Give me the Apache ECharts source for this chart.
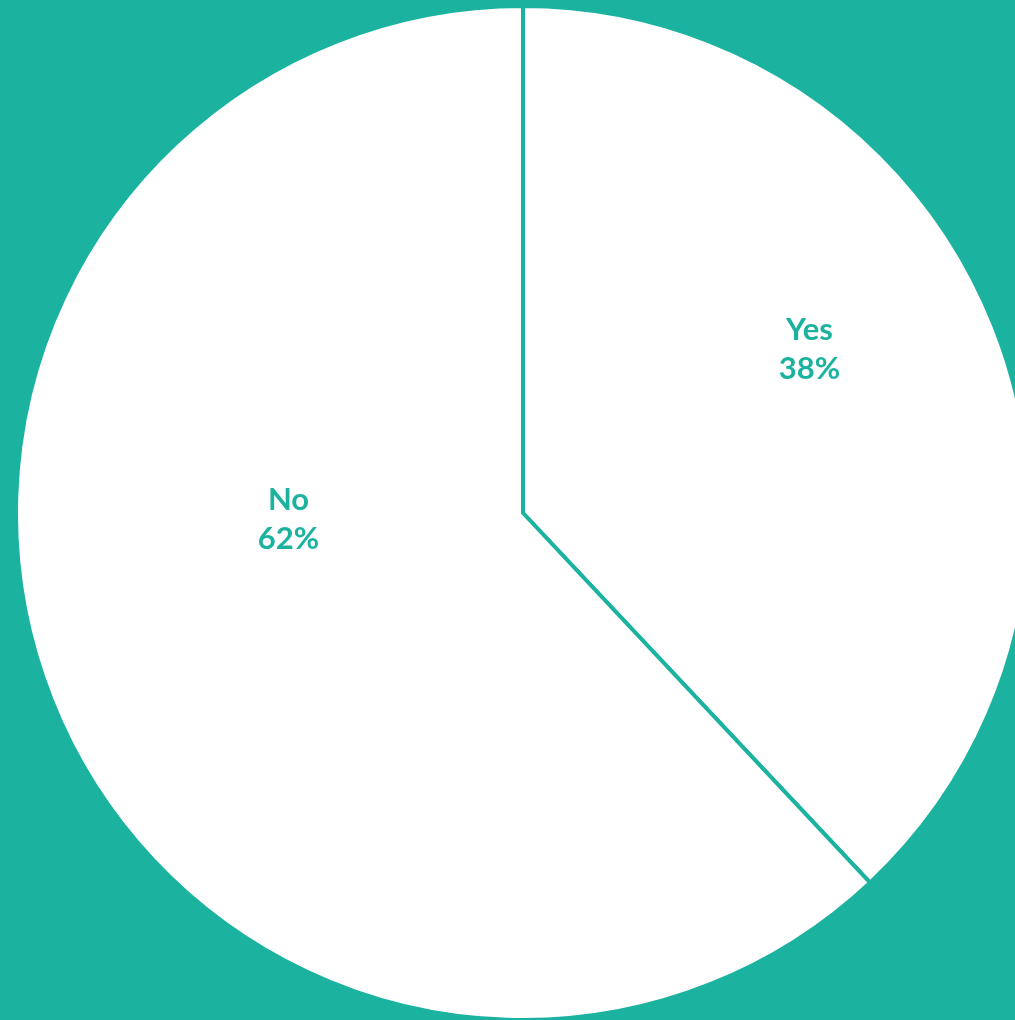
<!DOCTYPE html>
<html>
<head>
<meta charset="utf-8">
<script src="https://cdn.jsdelivr.net/npm/echarts@6/dist/echarts.min.js"></script>
<style>
  html, body { margin: 0; padding: 0; background: #1bb3a0; }
  #chart { width: 1015px; height: 1020px; }
</style>
</head>
<body>
<div id="chart"></div>
<script>
// answers and their shares (%)
var answers = ['Yes', 'No'];
var shares = [38, 62];

var teal = '#1bb3a0';

var chart = echarts.init(document.getElementById('chart'));

// label nudges, Excel-style placement
var labelShift = [
    { dx: 48, dy: -69 },
    { dx: 4, dy: -88 }
];

chart.setOption({
    backgroundColor: teal,
    animation: false,
    series: [
        {
            type: 'pie',
            center: [523, 513],
            radius: [0, 507],
            startAngle: 90,
            clockwise: true,
            data: answers.map(function (name, i) {
                return { name: name, value: shares[i] };
            }),
            itemStyle: {
                color: '#ffffff',
                borderColor: teal,
                borderWidth: 4
            },
            label: {
                show: true,
                position: 'inside',
                formatter: '{b}\n{d}%',
                color: teal,
                fontFamily: 'Lato',
                fontWeight: 'bold',
                fontSize: 31,
                lineHeight: 39
            },
            labelLine: { show: false },
            emphasis: { disabled: true },
            labelLayout: function (params) {
                return labelShift[params.dataIndex];
            }
        }
    ]
});
</script>
</body>
</html>
